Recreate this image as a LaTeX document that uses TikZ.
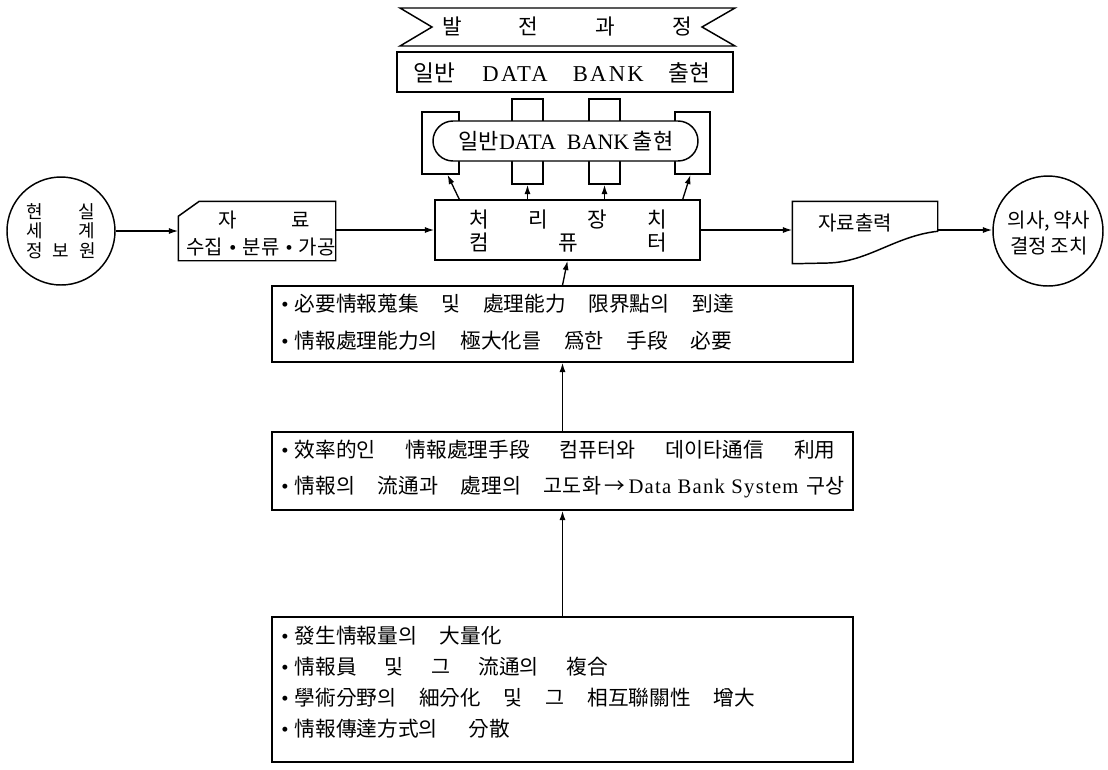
\documentclass[tikz,border=0pt]{standalone}
\usepackage{fontspec}
\setmainfont{Noto Sans CJK KR}
\newfontfamily\lat{Liberation Serif}
\newfontfamily\latw[LetterSpace=10]{Liberation Serif}
\newfontfamily\latv[LetterSpace=6]{Liberation Serif}
\usetikzlibrary{arrows.meta}
\def\px{*0.75pt}
\newcommand\gp{\hspace{1.1em}}
\newcommand\bul{\makebox[0pt][r]{{\lat •}\hspace{0.3em}}}
\begin{document}
\begin{tikzpicture}[x=0.75pt,y=-0.75pt,line width=1.1pt,
  arr/.style={-{Latex[length=7pt,width=4.5pt]}, line width=1pt},
  box/.style={draw, line width=1.1pt},
  frame/.style={draw, line width=1.1pt, inner sep=0pt},
  txt/.style={font=\fontsize{15}{18}\selectfont, inner sep=0pt},
  lst/.style={font=\fontsize{15.5}{18}\selectfont, anchor=base west, inner sep=0pt}]
\useasboundingbox (0,0) rectangle (1108,769);

% banner
\draw[box] (400,8) -- (735,8) -- (702,27) -- (735,46) -- (400,46) -- (432,27) -- cycle;
\node[txt, font=\fontsize{16}{18}\selectfont] (title) at (567,27) {\makebox[187pt][s]{발\hfill 전\hfill 과\hfill 정}};

% box 1
\node[frame, minimum width=336\px, minimum height=40\px] (b1) at (565,72) {};
\node[txt, font=\fontsize{17}{18}\selectfont] (b1t) at (562,73) {일반\hspace{1.2em}{\latw DATA}\hspace{1.1em}{\latw BANK}\hspace{1.1em}출현};

% tabs behind the stadium
\node[frame, minimum width=37\px, minimum height=62\px] (tabL) at (440.5,143) {};
\node[frame, minimum width=31\px, minimum height=85\px] (tab1) at (527.5,141.5) {};
\node[frame, minimum width=31\px, minimum height=85\px] (tab2) at (604.5,141.5) {};
\node[frame, minimum width=35\px, minimum height=62\px] (tabR) at (692.5,143) {};
% stadium
\draw[box, fill=white, rounded corners=20\px] (433,121) rectangle (698,161);
\node[txt, font=\fontsize{16.5}{18}\selectfont] (st) at (566,141) {일반{\lat DATA\ \ BANK}\,출현};

% processing unit
\node[frame, minimum width=265\px, minimum height=60\px] (proc) at (567.5,230) {};
\node[txt, font=\fontsize{16}{18}\selectfont] (p1) at (568,220) {\makebox[148pt][s]{처\hfill 리\hfill 장\hfill 치}};
\node[txt, font=\fontsize{16}{18}\selectfont] (p2) at (568,243) {\makebox[148pt][s]{컴\hfill 퓨\hfill 터}};

\draw[arr] ([xshift=25\px]proc.north west) -- ([xshift=7\px]tabL.south);
\draw[arr] (proc.north -| tab1.south) -- (tab1.south);
\draw[arr] (proc.north -| tab2.south) -- (tab2.south);
\draw[arr] ([xshift=-18\px]proc.north east) -- ([xshift=-2\px]tabR.south);

% data box
\node[minimum width=156\px, minimum height=58\px, inner sep=0pt] (jr) at (257,231) {};
\draw[box] ([yshift=-15\px]jr.north west) -- ([xshift=21\px]jr.north west) -- (jr.north east) -- (jr.south east) -- (jr.south west) -- cycle;
\node[txt] (jr1) at (264,220) {\makebox[69pt][s]{자\hfill 료}};
\node[txt] (jr2) at (261,247) {\makebox[112pt][s]{수집\hfill{\lat •}\hfill 분류\hfill{\lat •}\hfill 가공}};

% output document
\node[minimum width=144\px, minimum height=61\px, inner sep=0pt] (out) at (865,232.5) {};
\draw[box] (out.north west) -- (out.north east) -- ([yshift=-30\px]out.north east)
  .. controls (895,236) and (868,262) .. (828,263) -- (out.south west) -- cycle;
\node[txt] (outt) at (855,223) {자료출력};

% circles
\node[circle, draw, line width=1.1pt, minimum size=108\px, inner sep=0pt, align=center,
  font=\fontsize{13.5}{14.5}\selectfont] (cl) at (61,231)
  {\makebox[51pt][s]{현\hfill 실}\\\makebox[51pt][s]{세\hfill 계}\\\makebox[52pt][s]{정\hfill 보\hfill 원}};
\node[circle, draw, line width=1.1pt, minimum size=110\px, inner sep=0pt] (cr) at (1048,231) {};
\node[txt, align=center, font=\fontsize{15}{20}\selectfont] (crt) at (1049,233) {의사,\,약사\\결정\,조치};

\draw[arr] (cl.east) -- (jr.west |- cl.east);
\draw[arr] (jr.east |- proc.west) -- (proc.west);
\draw[arr] (proc.east) -- (out.west |- proc.east);
\draw[arr] (out.east |- proc.east) -- (cr.west |- proc.east);

% list boxes
\node[frame, minimum width=581\px, minimum height=76\px] (n1) at (562.5,324) {};
\node[frame, minimum width=581\px, minimum height=78\px] (n2) at (562.5,471) {};
\node[frame, minimum width=581\px, minimum height=145\px] (n3) at (562.5,689.5) {};

\draw[arr] (n1.north) -- (proc.south);
\draw[arr] (n2.north) -- (n1.south);
\draw[arr] (n3.north) -- (n2.south);

\node[lst] (n1a) at (294,311) {\bul 必要情報蒐集\gp 및\gp 處理能力\gp 限界點의\gp 到達};
\node[lst] (n1b) at (294,348) {\bul 情報處理能力의\gp 極大化를\gp 爲한\gp 手段\gp 必要};

\node[lst] (n2a) at (294,457) {\bul 效率的인\hspace{1.45em}情報處理手段\hspace{1.45em}컴퓨터와\hspace{1.45em}데이타通信\hspace{1.45em}利用};
\node[lst] (n2b) at (294,493) {\bul 情報의\hspace{1.1em}流通과\hspace{1.1em}處理의\hspace{1.1em}고도화\,→\,{\latv Data Bank System}\hspace{0.4em}구상};

\node[lst] (n3a) at (294,643) {\bul 發生情報量의\gp 大量化};
\node[lst] (n3b) at (294,674) {\bul 情報員\hspace{1.35em}및\hspace{1.35em}그\hspace{1.35em}流通의\hspace{1.35em}複合};
\node[lst] (n3c) at (294,705) {\bul 學術分野의\gp 細分化\gp 및\gp 그\gp 相互聯關性\gp 增大};
\node[lst] (n3d) at (294,736) {\bul 情報傳達方式의\hspace{1.5em}分散};
\end{tikzpicture}
\end{document}
